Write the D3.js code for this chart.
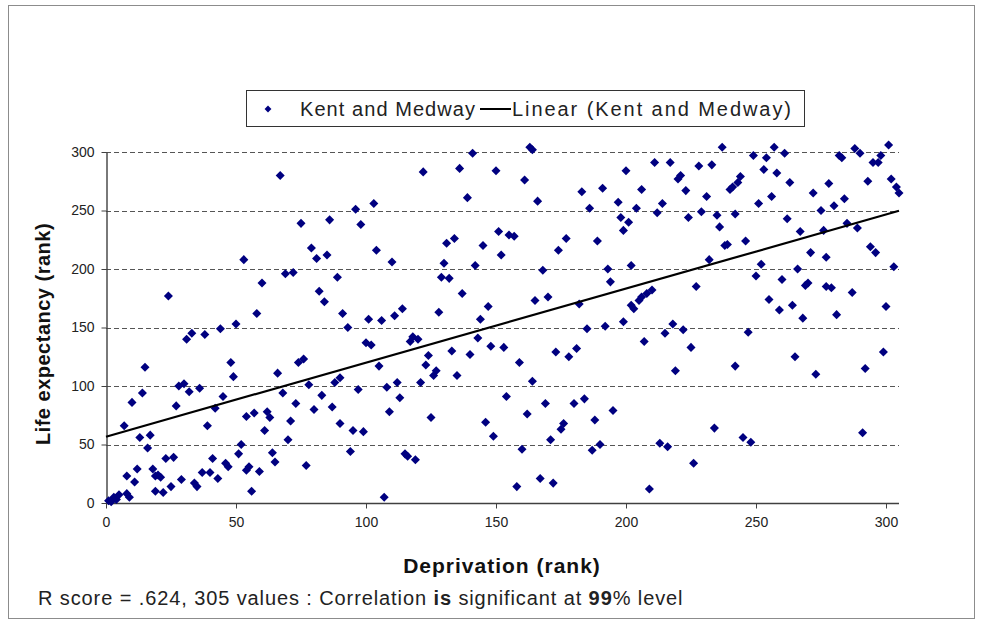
<!DOCTYPE html>
<html>
<head>
<meta charset="utf-8">
<script src="https://cdn.jsdelivr.net/npm/d3@7"></script>
<style>
  html, body { margin: 0; padding: 0; background: #fff; }
  svg { display: block; font-family: "Liberation Sans", Arial, sans-serif; }
</style>
</head>
<body>
<svg id="chart" width="983" height="624"></svg>
<script>
// [deprivation rank, life expectancy rank]
const kentMedway = [
  [67,280],[75,239],[86,242],[96,251],[98,238],[103,256],[79,218],[81,209],[85,212],[104,216],
  [53,208],[141,299],[163,304],[164,302],[122,283],[136,286],[150,284],[161,276],[200,284],[139,261],
  [166,258],[183,266],[191,269],[197,257],[206,268],[186,252],[204,252],[198,244],[201,240],[199,233],
  [131,222],[134,226],[145,220],[151,232],[155,229],[157,228],[152,212],[174,216],[177,226],[189,224],
  [110,206],[130,205],[142,203],[168,199],[193,200],[202,203],[237,304],[257,304],[261,299],[249,297],
  [254,295],[253,285],[211,291],[217,291],[228,288],[233,289],[221,280],[220,277],[244,279],[243,274],
  [240,268],[241,270],[258,282],[263,274],[223,267],[231,262],[214,256],[212,248],[229,249],[224,244],
  [235,246],[236,236],[242,247],[251,256],[256,262],[262,243],[267,232],[272,265],[278,273],[275,250],
  [280,254],[284,260],[282,297],[283,295],[288,303],[290,299],[298,297],[295,291],[297,291],[301,306],
  [293,275],[302,277],[304,270],[305,265],[285,239],[289,235],[276,233],[238,220],[239,221],[246,224],
  [232,208],[271,214],[277,210],[294,219],[296,214],[252,204],[303,202],[69,196],[72,197],[60,188],
  [89,193],[24,177],[82,181],[84,172],[58,162],[91,162],[101,157],[106,156],[50,153],[44,149],
  [93,150],[33,145],[31,140],[38,144],[100,137],[102,135],[74,120],[76,123],[48,120],[15,116],
  [105,117],[66,111],[49,108],[90,107],[194,189],[129,193],[132,192],[137,179],[165,173],[170,176],
  [182,170],[208,179],[205,173],[203,166],[202,169],[114,166],[111,160],[128,163],[147,168],[144,157],
  [185,149],[192,151],[199,155],[118,142],[120,140],[117,138],[143,141],[148,134],[153,133],[133,130],
  [140,127],[173,129],[181,132],[178,125],[207,138],[124,126],[123,118],[127,113],[126,109],[159,120],
  [135,109],[250,194],[266,200],[260,191],[269,186],[270,188],[277,185],[279,184],[287,180],[227,185],
  [210,182],[206,176],[255,174],[259,165],[264,169],[268,158],[281,161],[300,168],[218,153],[215,145],
  [222,148],[225,133],[247,146],[265,125],[299,129],[219,113],[242,117],[273,110],[292,115],[28,100],
  [30,102],[32,95],[36,98],[14,94],[78,101],[97,97],[88,103],[10,86],[27,83],[42,81],
  [45,91],[68,94],[83,92],[73,85],[80,80],[87,82],[7,66],[39,66],[54,74],[57,77],
  [62,78],[63,73],[71,70],[90,68],[61,62],[95,62],[99,61],[13,56],[17,58],[16,47],
  [70,54],[52,50],[51,42],[64,43],[65,35],[77,32],[94,44],[23,38],[26,39],[41,38],
  [46,34],[47,31],[55,31],[54,28],[59,27],[12,29],[18,29],[20,24],[21,22],[19,23],
  [8,23],[37,26],[40,26],[43,21],[11,18],[29,20],[34,17],[35,14],[25,14],[19,10],
  [22,9],[56,10],[8,8],[5,7],[3,5],[1,2],[4,3],[107,5],[2,1],[9,5],
  [108,99],[112,103],[121,103],[164,104],[113,90],[109,78],[125,73],[154,91],[169,85],[180,85],
  [184,89],[162,76],[195,79],[146,69],[176,68],[175,63],[188,71],[149,57],[171,54],[190,50],
  [187,45],[160,46],[115,42],[116,40],[119,37],[167,21],[172,17],[158,14],[209,12],[234,64],
  [213,51],[216,48],[245,56],[248,52],[291,60],[226,34]
];

const xTicks = [0, 50, 100, 150, 200, 250, 300];
const yTicks = [0, 50, 100, 150, 200, 250, 300];
const xMax = 305;
const yMax = 300;

const seriesLabel = "Kent and Medway";
const trendLabel = "Linear (Kent and Medway)";
const xTitle = "Deprivation (rank)";
const yTitle = "Life expectancy (rank)";
const noteParts = [
  ["R score = .624, 305 values : Correlation ", false],
  ["is", true],
  [" significant at ", false],
  ["99", true],
  ["% level", false]
];

const svg = d3.select("#chart");
const navy = "#000080";

// chart frame
svg.append("rect")
  .attr("x", 8.5).attr("y", 5.5)
  .attr("width", 966).attr("height", 613)
  .attr("fill", "#fff").attr("stroke", "#8c8c8c");

const x = d3.scaleLinear().domain([0, xMax]).range([106, 899]);
const y = d3.scaleLinear().domain([0, yMax]).range([503, 152]);

// dashed grid
svg.append("g")
  .selectAll("line")
  .data(yTicks.filter(d => d > 0))
  .join("line")
  .attr("x1", x(0)).attr("x2", x(xMax))
  .attr("y1", d => Math.round(y(d)) + 0.5).attr("y2", d => Math.round(y(d)) + 0.5)
  .attr("stroke", "#555")
  .attr("stroke-width", 1.2)
  .attr("stroke-dasharray", "5,3");

// axes
const xAxis = svg.append("g")
  .attr("transform", `translate(0,${Math.round(y(0)) + 0.5})`)
  .call(d3.axisBottom(x).tickValues(xTicks).tickSizeInner(5).tickSizeOuter(0).tickPadding(9));
const yAxis = svg.append("g")
  .attr("transform", `translate(${Math.round(x(0)) + 0.5},0)`)
  .call(d3.axisLeft(y).tickValues(yTicks).tickSizeInner(5).tickSizeOuter(0).tickPadding(7));

xAxis.select(".domain").attr("d", `M${x(0)},0H${x(xMax)}`);
[xAxis, yAxis].forEach(g => {
  g.select(".domain").attr("stroke", "#404040").attr("stroke-width", 1.4);
  g.selectAll(".tick line").attr("stroke", "#404040");
  g.selectAll(".tick text")
    .attr("font-family", "'Liberation Sans', Arial, sans-serif")
    .attr("font-size", 14).attr("fill", "#222");
});

// points
const diamond = d3.symbol().type(d3.symbolDiamond2).size(52);
svg.append("g")
  .selectAll("path")
  .data(kentMedway)
  .join("path")
  .attr("transform", d => `translate(${x(d[0])},${y(d[1])})`)
  .attr("d", diamond)
  .attr("fill", navy);

// least squares trend line
const mx = d3.mean(kentMedway, d => d[0]);
const my = d3.mean(kentMedway, d => d[1]);
const slope = d3.sum(kentMedway, d => (d[0] - mx) * (d[1] - my)) /
              d3.sum(kentMedway, d => (d[0] - mx) ** 2);
const intercept = my - slope * mx;
const trendX = [0, xMax];
svg.append("path")
  .attr("d", d3.line().x(d => x(d)).y(d => y(intercept + slope * d))(trendX))
  .attr("fill", "none")
  .attr("stroke", "#000")
  .attr("stroke-width", 2.2);

// legend
const legend = svg.append("g").attr("font-size", 20).attr("fill", "#222");
legend.append("rect")
  .attr("x", 246.5).attr("y", 90.5).attr("width", 558).attr("height", 36)
  .attr("fill", "#fff").attr("stroke", "#333");
legend.append("path")
  .attr("transform", "translate(268,109)")
  .attr("d", d3.symbol().type(d3.symbolDiamond2).size(30))
  .attr("fill", navy);
legend.append("text").attr("x", 300).attr("y", 116)
  .attr("textLength", 175).attr("lengthAdjust", "spacing")
  .text(seriesLabel);
legend.append("line")
  .attr("x1", 480).attr("x2", 511).attr("y1", 109).attr("y2", 109)
  .attr("stroke", "#000").attr("stroke-width", 2);
legend.append("text").attr("x", 512).attr("y", 116)
  .attr("textLength", 279).attr("lengthAdjust", "spacing")
  .text(trendLabel);

// axis titles
svg.append("text")
  .attr("x", 502).attr("y", 573)
  .attr("text-anchor", "middle")
  .attr("font-size", 21).attr("font-weight", "bold").attr("fill", "#111")
  .attr("letter-spacing", 1)
  .text(xTitle);
svg.append("text")
  .attr("transform", "translate(50,334) rotate(-90)")
  .attr("text-anchor", "middle")
  .attr("font-size", 20).attr("font-weight", "bold").attr("fill", "#111")
  .attr("letter-spacing", 0.5)
  .text(yTitle);

// note
const note = svg.append("text")
  .attr("x", 38).attr("y", 605)
  .attr("font-size", 20).attr("fill", "#222")
  .attr("letter-spacing", 0.9);
note.selectAll("tspan")
  .data(noteParts)
  .join("tspan")
  .attr("font-weight", d => d[1] ? "bold" : null)
  .text(d => d[0]);
</script>
</body>
</html>
